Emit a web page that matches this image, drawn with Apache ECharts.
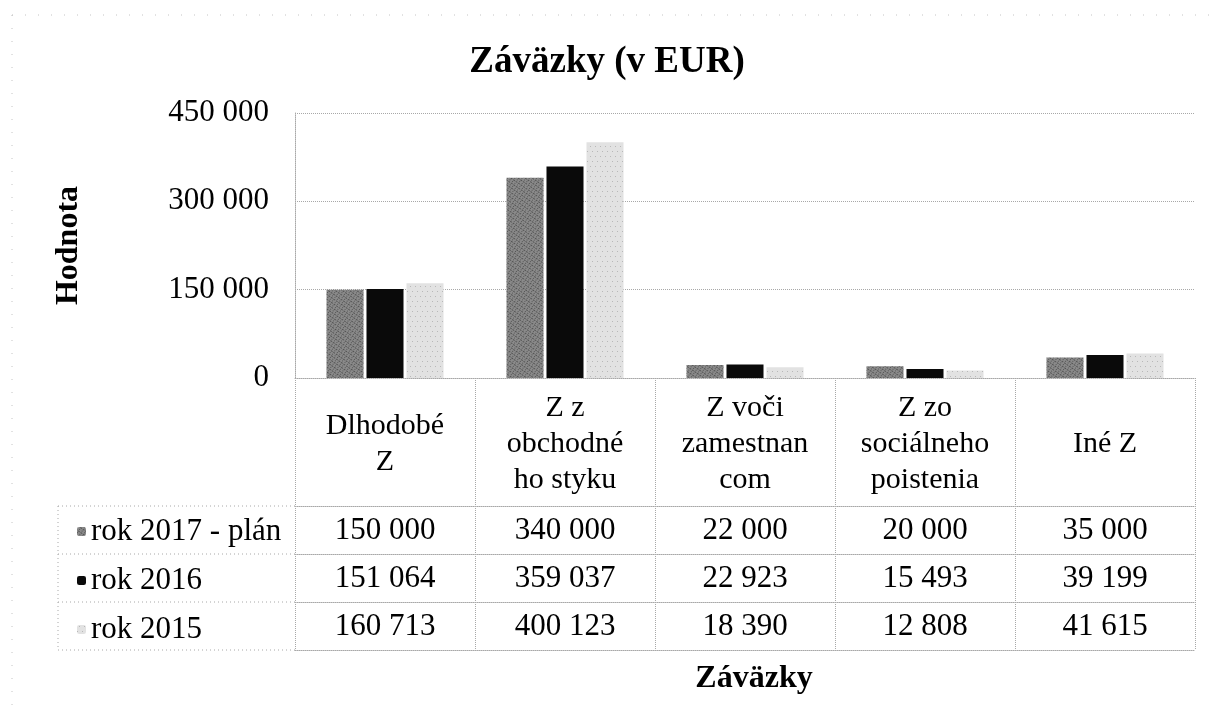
<!DOCTYPE html>
<html>
<head>
<meta charset="utf-8">
<script src="https://cdn.jsdelivr.net/npm/echarts@6/dist/echarts.min.js"></script>
<style>
  html, body { margin: 0; padding: 0; background: #fff; }
  #chart { width: 1214px; height: 717px; }
</style>
</head>
<body>
<div id="chart"></div>
<script>
// kategórie a hodnoty
const categories = ['Dlhodobé\nZ', 'Z z\nobchodné\nho styku', 'Z voči\nzamestnan\ncom', 'Z zo\nsociálneho\npoistenia', 'Iné Z']
const seriesNames = ['rok 2017 - plán', 'rok 2016', 'rok 2015']
const plan2017 = [150000, 340000, 22000, 20000, 35000]
const rok2016 = [151064, 359037, 22923, 15493, 39199]
const rok2015 = [160713, 400123, 18390, 12808, 41615]
const yTicks = [0, 150000, 300000, 450000]

const FONT = 'Liberation Serif'
const LINE = '#a8a8a8'

// rozloženie
const GRID_LEFT = 295
const GRID_RIGHT = 19
const GRID_TOP = 113
const GRID_BOTTOM = 339
const ROW_H = 48
const HEAD_H = 128
const ZERO_Y = 717 - GRID_BOTTOM

function fmt(v) {
  return String(v).replace(/\B(?=(\d{3})+(?!\d))/g, ' ')
}

const rows = [plan2017, rok2016, rok2015]

// riadky tabuľky ako ďalšie osi x
const rowAxes = rows.map((vals, i) => ({
  type: 'category',
  data: categories,
  position: 'bottom',
  offset: HEAD_H + i * ROW_H,
  axisLine: { show: true, lineStyle: { color: LINE, type: 'dotted' } },
  axisTick: { show: true, length: ROW_H, lineStyle: { color: LINE, type: 'dotted' } },
  axisLabel: {
    margin: ROW_H / 2 + 1,
    verticalAlign: 'middle',
    fontFamily: FONT,
    fontSize: 31,
    color: '#000',
    formatter: (v, idx) => fmt(vals[idx])
  }
}))

const chart = echarts.init(document.getElementById('chart'))

const tableLines = []
for (let i = 0; i <= rows.length; i++) {
  const y = ZERO_Y + HEAD_H + i * ROW_H
  tableLines.push({
    type: 'line',
    shape: { x1: 58, y1: y, x2: GRID_LEFT, y2: y },
    style: { stroke: LINE, lineDash: [1, 3], lineWidth: 1 }
  })
}
tableLines.push({
  type: 'line',
  shape: { x1: 58, y1: ZERO_Y + HEAD_H, x2: 58, y2: ZERO_Y + HEAD_H + rows.length * ROW_H },
  style: { stroke: LINE, lineDash: [1, 3], lineWidth: 1 }
})

const option = {
  backgroundColor: '#fff',
  animation: false,
  title: {
    text: 'Záväzky (v EUR)',
    left: 'center',
    top: 39,
    textStyle: { fontFamily: FONT, fontSize: 37, fontWeight: 'bold', color: '#000' }
  },
  legend: {
    data: seriesNames,
    orient: 'vertical',
    left: 72,
    top: ZERO_Y + HEAD_H + 5,
    itemWidth: 9,
    itemHeight: 9,
    itemGap: ROW_H - 30,
    textStyle: { fontFamily: FONT, fontSize: 31, color: '#000', lineHeight: 30 }
  },
  grid: { left: GRID_LEFT, right: GRID_RIGHT, top: GRID_TOP, bottom: GRID_BOTTOM },
  xAxis: [
    {
      type: 'category',
      data: categories,
      axisLine: { show: true, lineStyle: { color: LINE, type: 'dotted' } },
      axisTick: { show: true, length: HEAD_H, lineStyle: { color: LINE, type: 'dotted' } },
      axisLabel: {
        margin: 66,
        verticalAlign: 'middle',
        lineHeight: 36,
        fontFamily: FONT,
        fontSize: 30,
        color: '#000'
      }
    },
    ...rowAxes,
    {
      type: 'category',
      data: categories,
      position: 'bottom',
      offset: HEAD_H + rows.length * ROW_H,
      axisLine: { show: true, lineStyle: { color: LINE, type: 'dotted' } },
      axisTick: { show: false },
      axisLabel: { show: false },
      name: 'Záväzky',
      nameLocation: 'middle',
      nameGap: 13,
      nameTextStyle: { fontFamily: FONT, fontSize: 32, fontWeight: 'bold', color: '#000', padding: [0, 0, 0, 18] }
    }
  ],
  yAxis: {
    type: 'value',
    min: yTicks[0],
    max: yTicks[yTicks.length - 1],
    interval: yTicks[1] - yTicks[0],
    name: 'Hodnota',
    nameLocation: 'middle',
    nameRotate: 90,
    nameGap: 210,
    nameTextStyle: { fontFamily: FONT, fontSize: 32, fontWeight: 'bold', color: '#000' },
    axisLine: { show: true, lineStyle: { color: LINE, type: 'dotted' } },
    axisTick: { show: false },
    axisLabel: { margin: 26, fontFamily: FONT, fontSize: 31, color: '#000', formatter: v => fmt(v) },
    splitLine: { lineStyle: { color: LINE, type: 'dotted' } }
  },
  series: [
    {
      name: seriesNames[0],
      type: 'bar',
      data: plan2017,
      barGap: '8%',
      barCategoryGap: '35%',
      itemStyle: {
        color: '#8a8a8a',
        decal: { symbol: 'rect', symbolSize: 1, color: 'rgba(30,30,30,0.5)', dashArrayX: [[2, 1], [1, 2]], dashArrayY: [1, 1], rotation: 0.6 }
      }
    },
    {
      name: seriesNames[1],
      type: 'bar',
      data: rok2016,
      itemStyle: { color: '#0a0a0a' }
    },
    {
      name: seriesNames[2],
      type: 'bar',
      data: rok2015,
      itemStyle: {
        color: '#e2e2e2',
        decal: { symbol: 'circle', symbolSize: 0.8, color: 'rgba(100,100,100,0.75)', dashArrayX: [[1, 4], [0, 2, 1, 2]], dashArrayY: [3, 2] }
      }
    }
  ],
  graphic: [
    {
      type: 'rect',
      shape: { x: 12, y: 15, width: 1300, height: 800 },
      style: { fill: 'none', stroke: '#c4c4c4', lineDash: [1, 12], lineWidth: 1 },
      silent: true
    },
    ...tableLines
  ]
}

chart.setOption(option)
</script>
</body>
</html>
